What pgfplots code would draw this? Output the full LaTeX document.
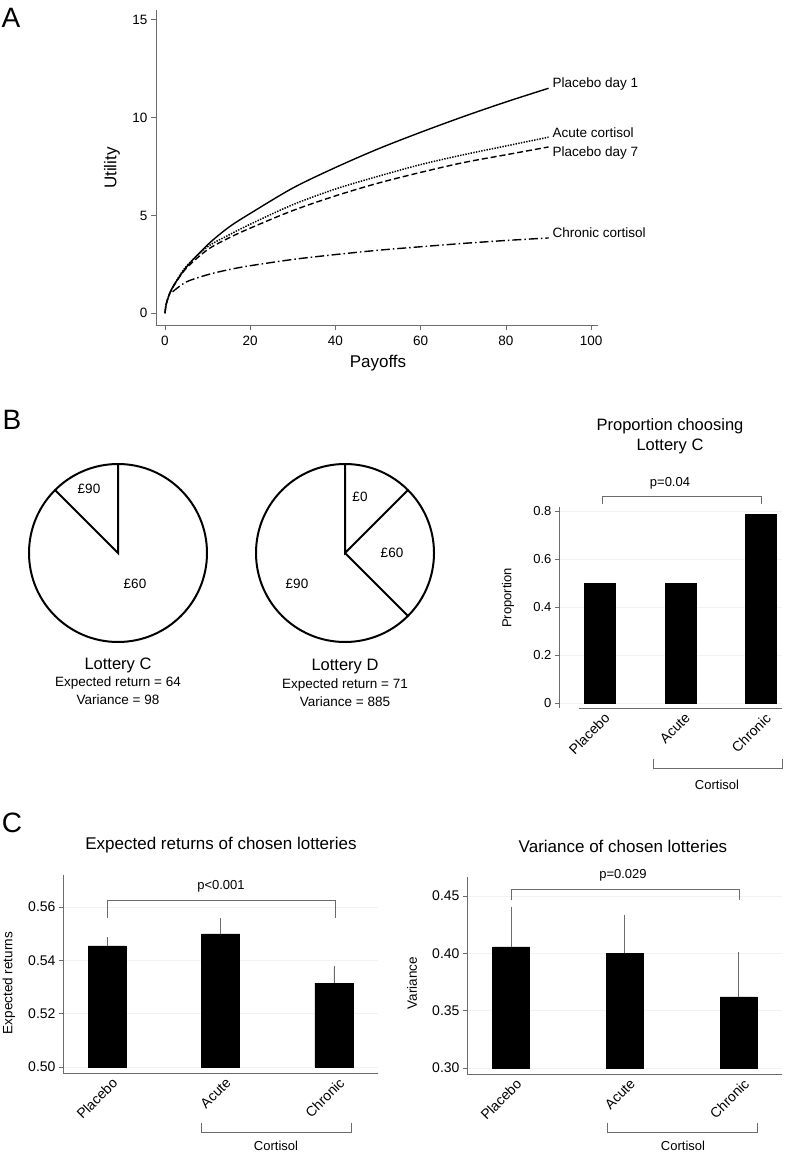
\documentclass[border=0pt]{standalone}
\usepackage{fontspec}
\setmainfont{Liberation Sans}
\usepackage{pgfplots}
\pgfplotsset{compat=1.18}
\newcommand{\fs}[1]{\fontsize{#1}{#1}\selectfont}
\definecolor{axc}{gray}{0.42}

\pgfplotsset{
  barpanel/.style={
    anchor=south west, scale only axis,
    axis x line*=bottom, axis y line*=left,
    x axis line style={draw=none}, y axis line style={draw=none},
    tick align=outside, major tick length=4pt,
    ytick style={axc, line width=0.8pt}, xtick style={draw=none},
    xtick={0,1,2}, xticklabels={Placebo,Acute,Chronic},
    xticklabel style={rotate=45, anchor=north east, font=\fs{14}, inner sep=1pt},
    yticklabel style={font=\fs{14}},
    /pgf/number format/assume math mode=true,
    ymajorgrids, grid style={gray!10, line width=0.6pt},
  },
  blackbar/.style={ybar, fill=black, draw=black, bar shift=0pt,
    error bars/y dir=plus, error bars/y explicit,
    error bars/error bar style={axc, line width=0.8pt},
    error bars/error mark options={axc, line width=0.8pt, mark size=2pt}},
}

\begin{document}
\begin{tikzpicture}
\useasboundingbox (0pt,0pt) rectangle (795pt,-1155pt);

% ---------------- A: utility curves
\begin{axis}[at={(156pt,-325pt)}, anchor=south west, scale only axis,
  width=442pt, height=315pt,
  xmin=-2.1, xmax=101.6, ymin=-0.6, ymax=15.5,
  axis x line*=bottom, axis y line*=left,
  axis line style={axc, line width=0.8pt},
  tick align=outside, major tick length=5pt,
  tick style={axc, line width=0.8pt},
  xtick={0,20,...,100}, ytick={0,5,10,15},
  tick label style={font=\fs{13.5}},
  xticklabel style={yshift=-3pt},
  /pgf/number format/assume math mode=true,
  clip=false]
\addplot[black, line width=1.4pt, smooth] coordinates {
  (0,0)(0.25,0.4)(0.5,0.6)(1,0.95)(2,1.4)(5,2.35)(10,3.5)(15,4.4)(20,5.1)
  (30,6.4)(40,7.45)(50,8.4)(60,9.25)(70,10.05)(80,10.8)(90,11.5)};
\addplot[black, line width=1.5pt, smooth, dash pattern=on 1.4pt off 1.3pt] coordinates {
  (0,0)(0.25,0.45)(0.5,0.65)(1,0.95)(2,1.4)(5,2.4)(10,3.4)(15,4.0)(20,4.55)
  (30,5.55)(40,6.35)(50,7.0)(60,7.6)(70,8.1)(80,8.55)(90,9.0)};
\addplot[black, line width=1.4pt, smooth, dash pattern=on 6pt off 3pt] coordinates {
  (0,0)(0.25,0.45)(0.5,0.65)(1,0.95)(2,1.38)(5,2.3)(10,3.25)(15,3.85)(20,4.35)
  (30,5.25)(40,6.0)(50,6.65)(60,7.2)(70,7.7)(80,8.1)(90,8.5)};
\addplot[black, line width=1.4pt, smooth, dash pattern=on 9pt off 3pt on 1.5pt off 3pt] coordinates {
  (1.8,1.1)(5,1.6)(10,1.97)(15,2.23)(20,2.43)(30,2.75)(40,3.0)(50,3.22)
  (60,3.4)(70,3.57)(80,3.72)(90,3.85)};
\end{axis}
\node[font=\fs{28}] at (11pt,-18pt) {A};
\node[font=\fs{13.5}, anchor=west] at (549pt,-84pt) {Placebo day 1};
\node[font=\fs{13.5}, anchor=west] at (549pt,-133pt) {Acute cortisol};
\node[font=\fs{13.5}, anchor=west] at (549pt,-153pt) {Placebo day 7};
\node[font=\fs{13.5}, anchor=west] at (549pt,-233pt) {Chronic cortisol};
\node[font=\fs{17}, rotate=90] at (112pt,-168pt) {Utility};
\node[font=\fs{17}] at (378pt,-363pt) {Payoffs};

% ---------------- B: lotteries (pies)
\begin{axis}[at={(0pt,-730pt)}, anchor=south west, scale only axis,
  width=460pt, height=350pt, xmin=0, xmax=460, ymin=-730, ymax=-380,
  hide axis, clip=false]
\draw[line width=2pt] (axis cs:118,-553) circle [radius=89];
\addplot[black, line width=2pt, line join=miter] coordinates {(118,-464)(118,-553)(55.07,-490.07)};
\draw[line width=2pt] (axis cs:345,-553) circle [radius=89];
\addplot[black, line width=2pt, line join=miter] coordinates {(345,-464)(345,-553)(407.93,-490.07)};
\addplot[black, line width=2pt] coordinates {(345,-553)(407.93,-615.93)};
\node[font=\fs{13.5}] at (axis cs:89,-489) {£90};
\node[font=\fs{13.5}] at (axis cs:135,-584) {£60};
\node[font=\fs{13.5}] at (axis cs:360,-497) {£0};
\node[font=\fs{13.5}] at (axis cs:392,-553) {£60};
\node[font=\fs{13.5}] at (axis cs:297,-584) {£90};
\end{axis}
\node[font=\fs{28}] at (12pt,-420pt) {B};
\node[font=\fs{16.5}] at (118pt,-665pt) {Lottery C};
\node[font=\fs{13.5}] at (118pt,-683pt) {Expected return = 64};
\node[font=\fs{13.5}] at (118pt,-700pt) {Variance = 98};
\node[font=\fs{16.5}] at (345pt,-667pt) {Lottery D};
\node[font=\fs{13.5}] at (345pt,-685pt) {Expected return = 71};
\node[font=\fs{13.5}] at (345pt,-702pt) {Variance = 885};

% ---------------- B: proportion choosing C
\begin{axis}[barpanel, at={(559pt,-703pt)}, width=223pt, height=196pt,
  xmin=-0.509, xmax=2.26, ymin=0, ymax=0.8167,
  ytick={0,0.2,0.4,0.6,0.8},
  yticklabel style={font=\fs{13}},
  xticklabel style={yshift=-5pt},
  yticklabel style={/pgf/number format/.cd, fixed, precision=1}]
\addplot[ybar, fill=black, draw=black, bar shift=0pt, bar width=31pt]
  coordinates {(0,0.5)(1,0.5)(2,0.787)};
\end{axis}
\draw[axc, line width=0.8pt] (559pt,-507pt) -- (559pt,-708pt);
\draw[axc, line width=0.8pt] (579pt,-708pt) -- (782pt,-708pt);
\node[font=\fs{16.5}, align=center] at (670pt,-436pt) {Proportion choosing\\[3pt]Lottery C};
\node[font=\fs{13}, rotate=90] at (508pt,-598pt) {Proportion};
\draw[axc, line width=0.8pt] (602pt,-504pt) -- (602pt,-496pt) -- (761pt,-496pt) -- (761pt,-504pt);
\node[font=\fs{13}] at (670pt,-483pt) {p=0.04};
\draw[axc, line width=0.8pt] (653pt,-759pt) -- (653pt,-768pt) -- (782pt,-768pt) -- (782pt,-759pt);
\node[font=\fs{13}] at (717pt,-785pt) {Cortisol};

% ---------------- C: expected returns
\begin{axis}[barpanel, at={(63pt,-1067pt)}, width=315pt, height=192pt,
  xmin=-0.388, xmax=2.388, ymin=0.5, ymax=0.572,
  ytick={0.50,0.52,0.54,0.56},
  xticklabel style={yshift=-6pt},
  yticklabel style={/pgf/number format/.cd, fixed, fixed zerofill, precision=2}]
\addplot[blackbar, bar width=38pt] coordinates {
  (0,0.5454) +- (0,0.0026)
  (1,0.5499) +- (0,0.0052)
  (2,0.5315) +- (0,0.0056)};
\end{axis}
\draw[axc, line width=0.8pt] (63pt,-875pt) -- (63pt,-1073pt) -- (378pt,-1073pt);
\node[font=\fs{28}] at (12pt,-823pt) {C};
\node[font=\fs{17}] at (221pt,-845pt) {Expected returns of chosen lotteries};
\node[font=\fs{13.5}, rotate=90] at (9pt,-983pt) {Expected returns};
\draw[axc, line width=0.8pt] (107pt,-918pt) -- (107pt,-900pt) -- (335pt,-900pt) -- (335pt,-918pt);
\node[font=\fs{13}] at (221pt,-886pt) {p<0.001};
\draw[axc, line width=0.8pt] (201pt,-1123pt) -- (201pt,-1132pt) -- (351pt,-1132pt) -- (351pt,-1123pt);
\node[font=\fs{13}] at (276pt,-1146pt) {Cortisol};

% ---------------- C: variance
\begin{axis}[barpanel, at={(467pt,-1068pt)}, width=315pt, height=191pt,
  xmin=-0.387, xmax=2.382, ymin=0.3, ymax=0.4666,
  ytick={0.30,0.35,0.40,0.45},
  xticklabel style={yshift=-6pt},
  yticklabel style={/pgf/number format/.cd, fixed, fixed zerofill, precision=2}]
\addplot[blackbar, bar width=37pt] coordinates {
  (0,0.4056) +- (0,0.0331)
  (1,0.4003) +- (0,0.0315)
  (2,0.3620) +- (0,0.0375)};
\end{axis}
\draw[axc, line width=0.8pt] (467pt,-877pt) -- (467pt,-1074pt) -- (782pt,-1074pt);
\node[font=\fs{17}] at (623pt,-846pt) {Variance of chosen lotteries};
\node[font=\fs{13.5}, rotate=90] at (412pt,-983pt) {Variance};
\draw[axc, line width=0.8pt] (511pt,-900pt) -- (511pt,-889pt) -- (739pt,-889pt) -- (739pt,-900pt);
\node[font=\fs{13}] at (623pt,-875pt) {p=0.029};
\draw[axc, line width=0.8pt] (607pt,-1123pt) -- (607pt,-1132pt) -- (757pt,-1132pt) -- (757pt,-1123pt);
\node[font=\fs{13}] at (683pt,-1146pt) {Cortisol};
\end{tikzpicture}
\end{document}
